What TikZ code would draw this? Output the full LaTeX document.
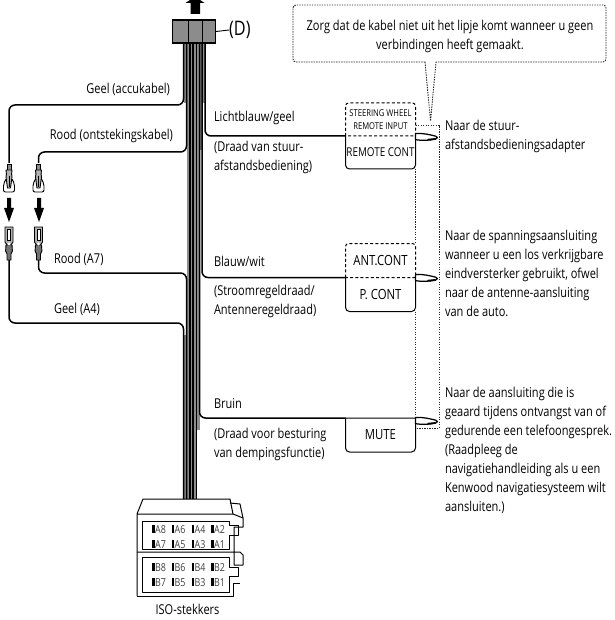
\documentclass[tikz,border=0pt]{standalone}
\usepackage{fontspec}
\setmainfont[FakeStretch=0.81]{Open Sans}
\tikzset{
  wire/.style={line width=1.5pt,rounded corners=6pt,line join=round},
  strand/.style={line width=1.55pt},
  txt/.style={inner sep=0pt,outer sep=0pt,anchor=base west,align=left,font=\fontsize{13.6}{19}\selectfont},
  boxlabel/.style={inner sep=0pt,outer sep=0pt,minimum width=70pt,align=center},
  solidbox/.style={line width=1pt,line join=round},
  dashbox/.style={line width=1pt,dash pattern=on 3pt off 2.2pt},
  dotline/.style={line width=0.9pt,dash pattern=on 1.4pt off 1.1pt,draw=black!85},
  pin/.style={inner sep=0pt,anchor=base west,font=\fontsize{11}{11}\selectfont,text=black!75},
  female/.pic={
    \draw[line width=.9pt,fill=white,rounded corners=2pt] (-5.5,29) -- (-5.5,21) -- (-2.5,15) -- (2.5,15) -- (5.5,21) -- (5.5,29) -- cycle;
    \draw[line width=.9pt,fill=black!45] (-2,1) rectangle (2,7);
    \draw[line width=.9pt,fill=black!30] (-3,7) -- (3,7) -- (2.6,11) -- (3,14) -- (1.5,25) -- (-1.5,25) -- (-3,14) -- (-2.6,11) -- cycle;
    \draw[line width=.6pt] (0,13) -- (0,24);
  },
  male/.pic={
    \draw[line width=.9pt,fill=black!30] (-4,0) -- (4,0) -- (4,15) -- (2,18) -- (-2,18) -- (-4,15) -- cycle;
    \draw[line width=.8pt,fill=white] (-1.5,2) rectangle (1.5,13);
    \draw[line width=.9pt,fill=black!55] (-3,18) -- (3,18) -- (3.4,24) -- (2,27) -- (2,33) -- (-2,33) -- (-2,27) -- (-3.4,24) -- cycle;
    \fill[white] (0,17) circle (1.6);
  },
  downarrow/.pic={\fill (-2,0) -- (2,0) -- (2,10) -- (5,10) -- (0,24) -- (-5,10) -- (-2,10) -- cycle;},
  loopend/.pic={\draw[line width=1.25pt,fill=white,line join=round] (0,-3) .. controls (8,-3.5) and (14,-1.8) .. (20,-.4) .. controls (22.5,.2) and (22.5,2) .. (20,2.6) .. controls (14,4) and (6,4.2) .. (0,3.2) -- cycle;
    \draw[line width=1.7pt] (12,3.2) -- (20,2.4);},
}
\begin{document}
\begin{tikzpicture}[x=1pt,y=-1pt]
\clip (0,0) rectangle (614,620);
\fill[white] (0,0) rectangle (614,620);

% ---- named wire points
\coordinate (gTop) at (183.5,43);
\coordinate (rTop) at (186.5,43);
\coordinate (lTop) at (205,43);
\coordinate (bTop) at (202,43);
\coordinate (mTop) at (199.5,43);
\coordinate (gBot) at (183.5,499);
\coordinate (rBot) at (186.5,499);
\coordinate (gFem) at (9,163);
\coordinate (rFem) at (38.5,163);
\coordinate (gMal) at (9,260);
\coordinate (rMal) at (38.5,260);

% ---- bundle
\fill[black!45] (184,43) rectangle (205,103);
\fill[black!45] (187,103) rectangle (203,150);
\fill[black!45] (187,150) rectangle (200,430);
\fill[black!45] (184,335) rectangle (197,499);
\foreach \x/\a/\b in {190/43/499,193.2/43/499,196.4/43/499}
  \draw[strand] (\x,\a) -- (\x,\b);

% ---- side wires
\draw[wire] (gTop) -- (183.5,105) -- (9,105) -- (gFem);
\draw[wire] (rTop) -- (186.5,152) -- (38.5,152) -- (rFem);
\draw[wire] (rMal) -- (38.5,273) -- (186.5,273) -- (rBot);
\draw[wire] (gMal) -- (9,323) -- (183.5,323) -- (gBot);

% ---- boxes on the right
\node[boxlabel,minimum height=33pt,font=\fontsize{12.2}{12}\selectfont] (rc) at (380.5,152.5) {REMOTE CONT};
\node[boxlabel,minimum height=33pt,font=\fontsize{9.4}{13}\selectfont] (sw) at (380.5,119.5) {STEERING WHEEL\\REMOTE INPUT};
\node[boxlabel,minimum height=34pt,font=\fontsize{14}{14}\selectfont] (pc) at (380.5,294.5) {P. CONT};
\node[boxlabel,minimum height=34pt,font=\fontsize{14}{14}\selectfont] (ac) at (380.5,260.5) {ANT.CONT};
\node[boxlabel,minimum height=34pt,font=\fontsize{14}{14}\selectfont] (mu) at (380.5,435) {MUTE};

% ---- dotted guides
\draw[dotline] (sw.east |- 0,125) -- (439,125) -- (439,428) -- (mu.east |- 0,428);
\draw[dotline] (rc.south east) -- (ac.north east);
\draw[dotline] (pc.south east) -- (mu.north east);
\draw[dotline,rounded corners=3pt] (425,62) -- (293,62) -- (293,5) -- (606,5) -- (606,62) -- (436,62);
\draw[dotline,line join=miter] (425,62) -- (430.5,121) -- (436,62);

% ---- wires to the boxes
\draw[wire] (lTop) -- (205,136) -- (rc.north west);
\draw[wire] (bTop) -- (202,277.5) -- (pc.north west);
\draw[wire] (mTop) -- (199.5,418) -- (mu.north west);

\draw[solidbox] (rc.north west) {[rounded corners=4pt] -- (rc.south west) -- (rc.south east)} -- (rc.north east);
\draw[dashbox] (sw.south west) {[rounded corners=3pt] -- (sw.north west) -- (sw.north east)} -- (sw.south east) -- (sw.south west);
\draw[solidbox] (pc.north west) {[rounded corners=4pt] -- (pc.south west) -- (pc.south east)} -- (pc.north east);
\draw[dashbox] (ac.south west) {[rounded corners=3pt] -- (ac.north west) -- (ac.north east)} -- (ac.south east) -- (ac.south west);
\draw[solidbox] (mu.north west) {[rounded corners=4pt] -- (mu.south west) -- (mu.south east)} -- (mu.north east) -- cycle;

\pic at (415.5,136.5) {loopend};
\pic at (415.5,277.5) {loopend};
\pic at (415.5,420.5) {loopend};

% ---- connector D
\fill (185.5,3) -- (190,0) -- (200,0) -- (204.5,3) -- (200,3) -- (200,14) -- (190.5,14) -- (190.5,3) -- cycle;
\node[draw,line width=1.3pt,fill=black!45,minimum width=43pt,minimum height=23pt,inner sep=0pt] (dc) at (194,31.5) {};
\draw[line width=1.3pt] (188.5,20) -- (188.5,43);
\draw[line width=1.3pt] (202.5,20) -- (202.5,43);
\node[inner sep=0pt,anchor=west,font=\fontsize{20}{20}\selectfont] (dl) at (229,30) {(D)};
\draw[line width=.9pt] (dc.east) -- (dl.west);

% ---- terminals
\pic at (gFem) {female};
\pic at (rFem) {female};
\pic at (9,198) {downarrow};
\pic at (39,198) {downarrow};
\pic at (9,227) {male};
\pic at (38.5,227) {male};

% ---- ISO block
\begin{scope}[line width=1pt,line join=round]
\draw (137,596) -- (137,514) -- (143,499) -- (230,499) -- (233,514) -- (137,514);
\draw (230,503) -- (240,504) -- (243,518) -- (243,527) -- (234,527) -- (234,565) -- (243,565) -- (243,555) -- (240,552) -- (137,552);
\draw (233,514) -- (243,518);
\draw (142,521) -- (229,521) -- (229,525) -- (238,525) -- (238,535) -- (229,535) -- (229,549) -- (142,549) -- cycle;
\draw (142,557) -- (229,557) -- (229,567) -- (238,567) -- (238,576) -- (229,576) -- (229,592) -- (142,592) -- cycle;
\draw (137,596) -- (233,596) -- (233,583) -- (240,583);
\end{scope}
\foreach \x/\la/\lb/\lc/\ld in {152/A8/A7/B8/B7,171.5/A6/A5/B6/B5,191.5/A4/A3/B4/B3,211/A2/A1/B2/B1}{
  \foreach \y/\t in {533/\la,548/\lb,571/\lc,586/\ld}{
    \fill (\x,\y-8) rectangle (\x+2.5,\y);
    \node[pin] at (\x+3,\y) {\t};
  }
}
\node[txt,anchor=base] (iso) at (187.5,614) {ISO-stekkers};

% ---- texts (a node's base is that of its last line)
\node[txt,anchor=base,align=center] (note) at (450,50) {Zorg dat de kabel niet uit het lipje komt wanneer u geen\\verbindingen heeft gemaakt.};
\node[txt,anchor=base east] (t1) at (170,94) {Geel (accukabel)};
\node[txt,anchor=base east] (t2) at (173,140) {Rood (ontstekingskabel)};
\node[txt] (t3) at (54,263) {Rood (A7)};
\node[txt] (t4) at (54,313) {Geel (A4)};
\node[txt] (t5) at (214,122) {Lichtblauw/geel};
\node[txt] (t6) at (214,171) {(Draad van stuur-\\afstandsbediening)};
\node[txt] (t7) at (214,266) {Blauw/wit};
\node[txt] (t8) at (214,314) {(Stroomregeldraad/\\Antenneregeldraad)};
\node[txt] (t9) at (214,408) {Bruin};
\node[txt] (t10) at (214,457) {(Draad voor besturing\\van dempingsfunctie)};
\node[txt] (r1) at (445,150) {Naar de stuur-\\afstandsbedieningsadapter};
\node[txt] (r2) at (445,316) {Naar de spanningsaansluiting\\wanneer u een los verkrijgbare\\eindversterker gebruikt, ofwel\\naar de antenne-aansluiting\\van de auto.};
\node[txt] (r3) at (445,511) {Naar de aansluiting die is\\geaard tijdens ontvangst van of\\gedurende een telefoongesprek.\\(Raadpleeg de\\navigatiehandleiding als u een\\Kenwood navigatiesysteem wilt\\aansluiten.)};
\end{tikzpicture}
\end{document}
